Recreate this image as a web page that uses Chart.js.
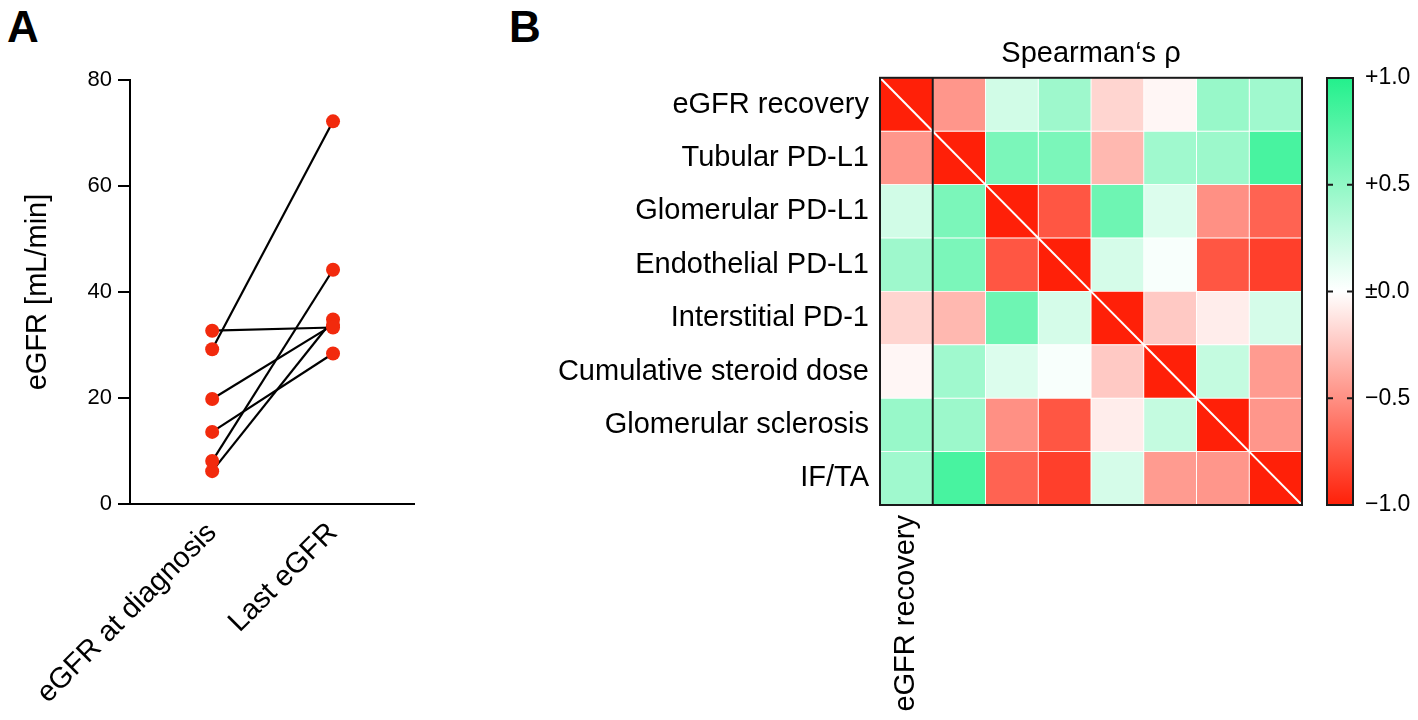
<!DOCTYPE html>
<html>
<head>
<meta charset="utf-8">
<script src="https://cdn.jsdelivr.net/npm/chart.js@4.4.0/dist/chart.umd.min.js"></script>
<style>
  html, body { margin: 0; padding: 0; background: #fff; }
  body { width: 1418px; height: 720px; position: relative; overflow: hidden; font-family: "Liberation Sans", Arial, sans-serif; }
  .letter { position: absolute; font-weight: bold; font-size: 44px; line-height: 1; color: #000; }
  .box { position: absolute; top: 0; height: 720px; }
</style>
</head>
<body>
<div class="letter" style="left:7px;top:5px">A</div>
<div class="letter" style="left:509px;top:5px">B</div>
<div class="box" style="left:0;width:450px"><canvas id="pairs"></canvas></div>
<div class="box" style="left:480px;width:830px"><canvas id="heat"></canvas></div>
<div class="box" style="left:1310px;width:108px"><canvas id="scale"></canvas></div>

<script>
// panel A: paired eGFR values
const armLabels = ['eGFR at diagnosis', 'Last eGFR'];
const eGFRDiagnosis = [32.7, 29.2, 19.8, 13.6, 8.1, 6.2];
const eGFRLast = [33.3, 72.2, 33.8, 28.4, 44.2, 34.8];
const eGFRTicks = [0, 20, 40, 60, 80];

// panel B: Spearman correlation matrix (diagonal left empty)
const rowLabels = [
  'eGFR recovery', 'Tubular PD-L1', 'Glomerular PD-L1', 'Endothelial PD-L1',
  'Interstitial PD-1', 'Cumulative steroid dose', 'Glomerular sclerosis', 'IF/TA'
];
const columnLabels = ['eGFR recovery'];   // only the first column is labelled
const rhoValues = [
  [null, -0.47, 0.21, 0.44, -0.19, -0.04, 0.47, 0.43],
  [-0.47, null, 0.60, 0.60, -0.32, 0.43, 0.45, 0.83],
  [0.21, 0.60, null, -0.76, 0.66, 0.16, -0.50, -0.70],
  [0.44, 0.60, -0.76, null, 0.19, 0.03, -0.76, -0.86],
  [-0.19, -0.32, 0.66, 0.19, null, -0.24, -0.08, 0.19],
  [-0.04, 0.43, 0.16, 0.03, -0.24, null, 0.27, -0.45],
  [0.47, 0.45, -0.50, -0.76, -0.08, 0.27, null, -0.47],
  [0.43, 0.83, -0.70, -0.86, 0.19, -0.45, -0.47, null]
];
const rhoTicks = [-1, -0.5, 0, 0.5, 1];
const rhoTickLabels = ['\u22121.0', '\u22120.5', '\u00b10.0', '+0.5', '+1.0'];

Chart.defaults.font.family = '"Liberation Sans", Arial, sans-serif';
Chart.defaults.color = '#000';

const pointRed = '#f22a0d';
const redEnd = [255, 32, 8];
const greenEnd = [35, 240, 140];

function rhoColor(v) {
  if (v === null) return 'rgb(' + redEnd.join(',') + ')';
  const t = Math.min(1, Math.abs(v));
  const end = v >= 0 ? greenEnd : redEnd;
  const c = end.map(e => Math.round(255 + (e - 255) * t));
  return 'rgb(' + c.join(',') + ')';
}

new Chart(document.getElementById('pairs'), {
  type: 'line',
  data: {
    datasets: eGFRDiagnosis.map((d, i) => ({
      data: [{ x: 0, y: d }, { x: 1, y: eGFRLast[i] }],
      borderColor: '#000',
      borderWidth: 2.2,
      pointRadius: 7,
      pointBackgroundColor: pointRed,
      pointBorderWidth: 0,
      fill: false
    }))
  },
  options: {
    responsive: true,
    maintainAspectRatio: false,
    animation: false,
    layout: { padding: { top: 80, right: 36, bottom: 0, left: 0 } },
    plugins: { legend: { display: false }, tooltip: { enabled: false } },
    scales: {
      x: {
        type: 'linear', min: -0.68, max: 1.67,
        afterBuildTicks: s => { s.ticks = armLabels.map((_, i) => ({ value: i })); },
        afterFit: s => { s.height = 216; },
        ticks: { callback: v => armLabels[v], minRotation: 45, maxRotation: 45, autoSkip: false, font: { size: 29 }, padding: 4 },
        grid: { display: false },
        border: { color: '#000', width: 2 }
      },
      y: {
        min: 0, max: 80,
        afterBuildTicks: s => { s.ticks = eGFRTicks.map(v => ({ value: v })); },
        afterFit: s => { s.width = 130; },
        ticks: { font: { size: 22 }, padding: 6 },
        grid: { drawOnChartArea: false, color: '#000', lineWidth: 2, tickLength: 12 },
        border: { color: '#000', width: 2 },
        title: { display: true, text: 'eGFR [mL/min]', font: { size: 29 }, padding: { top: 21, bottom: 0 } }
      }
    }
  }
});

const heatFrame = {
  id: 'heatFrame',
  afterDatasetsDraw(chart) {
    const { ctx, chartArea: a, scales: { x, y } } = chart;
    const h = (a.bottom - a.top) / rowLabels.length;
    ctx.save();
    ctx.strokeStyle = '#fff';
    ctx.lineWidth = 2;
    rowLabels.forEach((_, i) => {
      const yc = y.getPixelForValue(i);
      ctx.beginPath();
      ctx.moveTo(x.getPixelForValue(i), yc - h / 2);
      ctx.lineTo(x.getPixelForValue(i + 1), yc + h / 2);
      ctx.stroke();
    });
    ctx.strokeStyle = '#1a1a1a';
    ctx.lineWidth = 2;
    ctx.strokeRect(a.left, a.top, a.right - a.left, a.bottom - a.top);
    ctx.beginPath();
    ctx.moveTo(x.getPixelForValue(1), a.top);
    ctx.lineTo(x.getPixelForValue(1), a.bottom);
    ctx.stroke();
    ctx.restore();
  }
};

new Chart(document.getElementById('heat'), {
  type: 'bar',
  data: {
    labels: rowLabels,
    datasets: rowLabels.map((_, j) => ({
      data: rowLabels.map(() => [j, j + 1]),
      backgroundColor: rowLabels.map((_, i) => rhoColor(rhoValues[i][j])),
      borderColor: '#fff',
      borderWidth: 0.8,
      borderSkipped: false,
      grouped: false,
      barPercentage: 1,
      categoryPercentage: 1
    }))
  },
  options: {
    indexAxis: 'y',
    responsive: true,
    maintainAspectRatio: false,
    animation: false,
    layout: { padding: { top: 37, right: 8, bottom: 0, left: 0 } },
    plugins: {
      legend: { display: false },
      tooltip: { enabled: false },
      title: {
        display: true, text: 'Spearman\u2018s \u03c1', fullSize: false, color: '#000',
        font: { size: 29, weight: 'normal' }, padding: { top: 0, bottom: 6 }
      }
    },
    scales: {
      x: {
        type: 'linear', min: 0, max: rowLabels.length,
        afterBuildTicks: s => { s.ticks = columnLabels.map((_, k) => ({ value: k + 0.5 })); },
        afterFit: s => { s.height = 215; },
        ticks: { callback: v => columnLabels[Math.floor(v)], minRotation: 90, maxRotation: 90, autoSkip: false, font: { size: 29 }, padding: 10 },
        grid: { display: false, drawTicks: false },
        border: { display: false }
      },
      y: {
        afterFit: s => { s.width = 400; },
        ticks: { font: { size: 29 }, padding: 11 },
        grid: { display: false, drawTicks: false },
        border: { display: false }
      }
    }
  },
  plugins: [heatFrame]
});

const barFrame = {
  id: 'barFrame',
  afterDatasetsDraw(chart) {
    const { ctx, chartArea: a, scales: { y } } = chart;
    ctx.save();
    ctx.strokeStyle = '#1a1a1a';
    ctx.lineWidth = 2;
    ctx.strokeRect(a.left, a.top, a.right - a.left, a.bottom - a.top);
    rhoTicks.filter(v => Math.abs(v) < 1).forEach(v => {
      const py = y.getPixelForValue(v);
      ctx.beginPath();
      ctx.moveTo(a.left, py); ctx.lineTo(a.left + 6, py);
      ctx.moveTo(a.right - 6, py); ctx.lineTo(a.right, py);
      ctx.stroke();
    });
    ctx.restore();
  }
};

new Chart(document.getElementById('scale'), {
  type: 'bar',
  data: {
    labels: ['rho'],
    datasets: [{
      data: [[-1, 1]],
      backgroundColor: c => {
        const a = c.chart.chartArea;
        if (!a) return null;
        const g = c.chart.ctx.createLinearGradient(0, a.bottom, 0, a.top);
        for (let k = 0; k <= 20; k++) g.addColorStop(k / 20, rhoColor(-1 + k / 10));
        return g;
      },
      borderWidth: 0,
      barPercentage: 1,
      categoryPercentage: 1
    }]
  },
  options: {
    responsive: true,
    maintainAspectRatio: false,
    animation: false,
    layout: { padding: { top: 78, right: 0, bottom: 215, left: 17 } },
    plugins: { legend: { display: false }, tooltip: { enabled: false } },
    scales: {
      x: { display: false },
      y: {
        position: 'right', min: -1, max: 1,
        afterBuildTicks: s => { s.ticks = rhoTicks.map(v => ({ value: v })); },
        afterFit: s => { s.width = 65; },
        ticks: { callback: v => rhoTickLabels[rhoTicks.indexOf(v)], font: { size: 23 }, padding: 12 },
        grid: { display: false, drawTicks: false },
        border: { display: false }
      }
    }
  },
  plugins: [barFrame]
});
</script>
</body>
</html>
